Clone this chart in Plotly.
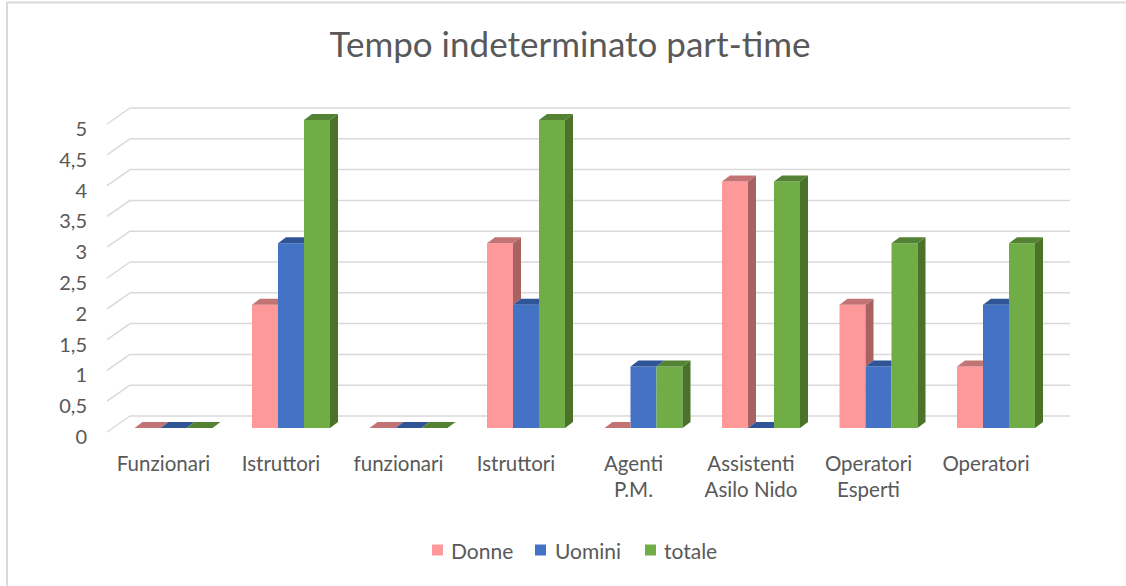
import plotly.graph_objects as go

# ---------------- data ----------------
categories = ["Funzionari", "Istruttori", "funzionari", "Istruttori", "Agenti<br>P.M.",
              "Assistenti<br>Asilo Nido", "Operatori<br>Esperti", "Operatori"]
series_names = ["Donne", "Uomini", "totale"]
donne = [0, 2, 0, 3, 0, 4, 2, 1]
uomini = [0, 3, 0, 2, 1, 0, 1, 2]
totale = [0, 5, 0, 5, 1, 4, 3, 3]
y_ticks = [0, 0.5, 1, 1.5, 2, 2.5, 3, 3.5, 4, 4.5, 5]
y_tick_labels = ["0", "0,5", "1", "1,5", "2", "2,5", "3", "3,5", "4", "4,5", "5"]

# ---------------- styling ----------------
front_colors = ["#FF9999", "#4472C4", "#70AD47"]
side_colors = ["#A86262", "#30528F", "#4A7329"]
top_colors = ["#C27474", "#2F5597", "#548235"]
FONT = "Lato"
TXT = "#595959"
GRID = "#D9D9D9"

W, H = 1126, 586
PL, PR, PT, PB = 104, 1080, 95, 440
CAT0, CATW = 173.5, 117.5      # px of first category centre, px per category
V0, VU = 428.0, 61.6           # px of value 0 (bar front), px per unit


def px2x(p):
    return (p - CAT0) / CATW


def px2y(p):
    return (V0 - p) / VU


pw, ph = PR - PL, PB - PT


def pxpaper_x(p):
    return (p - PL) / pw


def pxpaper_y(p):
    return (PB - p) / ph


BW = 26 / CATW                  # bar width in category units
DX, DY = 8 / CATW, 6 / VU       # bar depth
GF = (V0 - 432) / VU            # grid front offset
GB = (V0 - 416) / VU            # grid back offset
XF, XB, XR = px2x(107), px2x(130), px2x(1070)

values = [donne, uomini, totale]
n = len(categories)
xs = list(range(n))

fig = go.Figure()

# front faces
for s in range(3):
    fig.add_trace(go.Bar(
        x=xs, y=values[s], name=series_names[s], width=BW,
        offset=-1.5 * BW + s * BW, marker=dict(color=front_colors[s], line=dict(width=0)),
        hoverinfo="skip", showlegend=False))

# sides and tops (scatter polygons drawn above the bars)
for s in range(3):
    sx, sy, tx, ty = [], [], [], []
    for k in range(n):
        v = values[s][k]
        xl = k - 1.5 * BW + s * BW
        xr = xl + BW
        nxt = values[s + 1][k] if s < 2 else None
        base = 0 if nxt is None else nxt
        if v > base:
            sx += [xr, xr + DX, xr + DX, xr, xr, None]
            sy += [base, base + DY, v + DY, v, base, None]
        if nxt is not None and nxt > v:
            tx += [xl, xl + DX, xr, xr, xl, None]
        else:
            tx += [xl, xl + DX, xr + DX, xr, xl, None]
        ty += [v, v + DY, v + DY, v, v, None]
    fig.add_trace(go.Scatter(x=sx, y=sy, fill="toself", fillcolor=side_colors[s],
                             mode="lines", line=dict(width=0, color=side_colors[s]),
                             showlegend=False, hoverinfo="skip"))
    fig.add_trace(go.Scatter(x=tx, y=ty, fill="toself", fillcolor=top_colors[s],
                             mode="lines", line=dict(width=0, color=top_colors[s]),
                             showlegend=False, hoverinfo="skip"))

# grid (back wall + left wall)
shapes = []
for t in y_ticks:
    shapes.append(dict(type="line", xref="x", yref="y", x0=XF, y0=t + GF, x1=XB, y1=t + GB,
                       line=dict(color=GRID, width=1.5), layer="below"))
    shapes.append(dict(type="line", xref="x", yref="y", x0=XB, y0=t + GB, x1=XR, y1=t + GB,
                       line=dict(color=GRID, width=1.5), layer="below"))

# chart border (left and top edges)
shapes.append(dict(type="line", xref="paper", yref="paper", x0=pxpaper_x(7), x1=pxpaper_x(7),
                   y0=pxpaper_y(600), y1=pxpaper_y(2), line=dict(color=GRID, width=2)))
shapes.append(dict(type="line", xref="paper", yref="paper", x0=pxpaper_x(7), x1=pxpaper_x(1200),
                   y0=pxpaper_y(2.5), y1=pxpaper_y(2.5), line=dict(color=GRID, width=2)))

# manual legend (square + label)
annotations = []
leg_sq_x = [432, 535, 645]
leg_tx_x = [449, 553, 662]
LEG_Y = 550
for s in range(3):
    shapes.append(dict(type="rect", xref="paper", yref="paper",
                       x0=pxpaper_x(leg_sq_x[s]), x1=pxpaper_x(leg_sq_x[s] + 11),
                       y0=pxpaper_y(LEG_Y + 5.5), y1=pxpaper_y(LEG_Y - 5.5),
                       fillcolor=front_colors[s], line=dict(width=0)))
    annotations.append(dict(xref="paper", yref="paper", x=pxpaper_x(leg_tx_x[s]), y=pxpaper_y(LEG_Y),
                            xanchor="left", yanchor="middle", text=series_names[s], showarrow=False,
                            font=dict(size=21, color=TXT, family=FONT)))

fig.update_layout(
    width=W, height=H,
    margin=dict(l=PL, r=W - PR, t=PT, b=H - PB, pad=0),
    paper_bgcolor="white", plot_bgcolor="white",
    barmode="overlay",
    font=dict(family=FONT, color=TXT, size=20),
    title=dict(text="Tempo indeterminato part-time", x=pxpaper_x(570), xref="paper", xanchor="center",
               y=1 - 45 / H, yanchor="middle", font=dict(size=35, color=TXT, family=FONT)),
    xaxis=dict(range=[px2x(PL), px2x(PR)], showgrid=False, zeroline=False, showline=False,
               automargin=False,
               tickmode="array", tickvals=[k - 10 / CATW for k in xs], ticktext=categories,
               ticks="outside", ticklen=5, tickcolor="rgba(0,0,0,0)",
               tickfont=dict(size=20.5, color=TXT, family=FONT)),
    yaxis=dict(range=[px2y(PB), px2y(PT)], showgrid=False, zeroline=False, showline=False,
               automargin=False,
               tickmode="array", tickvals=[t - 9 / VU for t in y_ticks], ticktext=y_tick_labels,
               ticks="outside", ticklen=12, tickcolor="rgba(0,0,0,0)",
               tickfont=dict(size=20, color=TXT, family=FONT)),
    shapes=shapes,
    annotations=annotations,
    showlegend=False,
)

fig.write_html("out.html", config={"displayModeBar": False},
               post_script="document.body.style.margin='0px';")
